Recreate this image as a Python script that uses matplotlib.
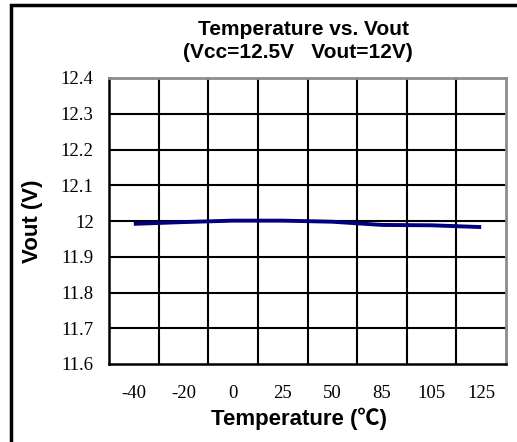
import numpy as np
import matplotlib.pyplot as plt
from matplotlib.patches import Rectangle

# donnees
temperatures = ['-40', '-20', '0', '25', '50', '85', '105', '125']
vout = [11.992, 11.997, 12.001, 12.001, 11.998, 11.989, 11.988, 11.983]
yticks = [11.6, 11.7, 11.8, 11.9, 12.0, 12.1, 12.2, 12.3, 12.4]
ytick_labels = ['11.6', '11.7', '11.8', '11.9', '12', '12.1', '12.2', '12.3', '12.4']

W, H = 517, 442
fig = plt.figure(figsize=(W / 100, H / 100), dpi=100)

# cadre exterieur (seuls les bords haut et gauche sont visibles)
fig.patches.append(Rectangle((11 / W, -0.05), 1.2, (H - 5) / H + 0.05,
                             transform=fig.transFigure, fill=False,
                             edgecolor='black', linewidth=2.5, zorder=0))

ax = fig.add_axes([109 / W, 1 - 364 / H, (506 - 109) / W, (364 - 78) / H])

x = np.arange(len(temperatures))
ax.plot(x, vout, color='#000080', linewidth=2.8, solid_capstyle='butt', zorder=3)

ax.set_xlim(-0.5, len(temperatures) - 0.5)
ax.set_ylim(11.6, 12.4)

# grille verticale entre les categories, horizontale sur les graduations
for xv in np.arange(0.5, len(temperatures) - 0.5, 1):
    ax.axvline(xv, color='black', linewidth=1.5, zorder=1)
for yv in yticks[1:-1]:
    ax.axhline(yv, color='black', linewidth=1.5, zorder=1)

ax.set_xticks(x)
ax.set_xticklabels(temperatures, family='Liberation Serif', fontsize=13.5)
ax.set_yticks(yticks)
ax.set_yticklabels(ytick_labels, family='Liberation Serif', fontsize=13.5)
ax.tick_params(axis='both', length=0)
ax.tick_params(axis='y', pad=11)
ax.tick_params(axis='x', pad=15)

for side in ['left', 'bottom']:
    ax.spines[side].set_linewidth(1.8)
    ax.spines[side].set_color('black')
for side in ['top', 'right']:
    ax.spines[side].set_linewidth(2.0)
    ax.spines[side].set_color('#8c8c8c')

ax.set_xlabel('Temperature (℃)', family=['Liberation Sans', 'Noto Sans CJK SC'],
              fontweight='bold', fontsize=16)
ax.xaxis.set_label_coords(0.479, -0.153)
ax.set_ylabel('Vout (V)', family='Liberation Sans', fontweight='bold',
              fontsize=16, labelpad=13)

fig.text(304 / W, 1 - 29.5 / H, 'Temperature vs. Vout', family='Liberation Sans',
         fontweight='bold', fontsize=15, ha='center', va='center')
fig.text(298 / W, 1 - 53 / H, '(Vcc=12.5V   Vout=12V)', family='Liberation Sans',
         fontweight='bold', fontsize=15, ha='center', va='center')

fig.savefig('out.png', dpi=100)
